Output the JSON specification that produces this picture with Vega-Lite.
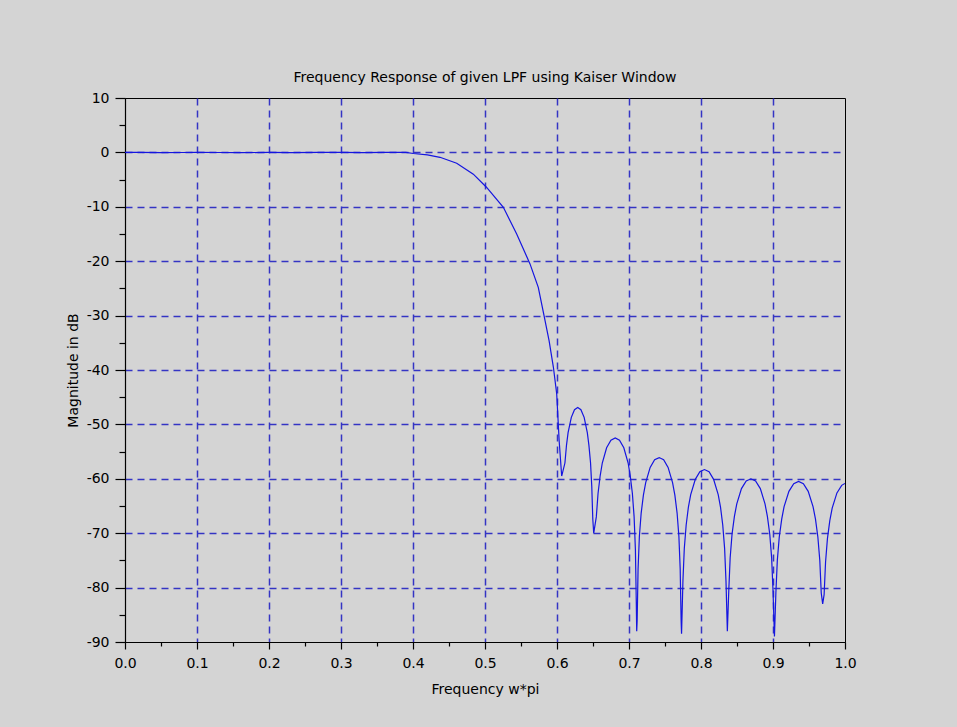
{
  "$schema": "https://vega.github.io/schema/vega-lite/v6.json",
  "autosize": "none",
  "width": 720,
  "height": 544,
  "padding": {"left": 125, "top": 98, "right": 112, "bottom": 85},
  "background": "#d4d4d4",
  "title": {"text": "Frequency Response of given LPF using Kaiser Window", "font": "DejaVu Sans", "fontSize": 14, "fontWeight": "normal", "color": "black", "offset": 6},
  "config": {"view": {"stroke": "black", "strokeWidth": 1, "fill": "#d4d4d4"}},
  "data": {"values": [
    {"f": 0, "db": 0}, {"f": 0.02, "db": -0.01}, {"f": 0.05, "db": -0.05}, {"f": 0.08, "db": -0.02}, {"f": 0.1, "db": 0.02}, {"f": 0.13, "db": -0.02}, {"f": 0.16, "db": -0.05}, {"f": 0.2, "db": 0}, {"f": 0.23, "db": -0.04}, {"f": 0.27, "db": 0.01}, {"f": 0.3, "db": 0.02}, {"f": 0.33, "db": -0.04}, {"f": 0.36, "db": 0}, {"f": 0.38, "db": 0.02}, {"f": 0.39, "db": 0},
    {"f": 0.4005, "db": -0.2}, {"f": 0.42, "db": -0.45}, {"f": 0.4375, "db": -0.9}, {"f": 0.4607, "db": -2.0}, {"f": 0.4838, "db": -4.0}, {"f": 0.502, "db": -6.4}, {"f": 0.5255, "db": -10.1}, {"f": 0.544, "db": -15.0}, {"f": 0.5625, "db": -20.5}, {"f": 0.574, "db": -24.8}, {"f": 0.582, "db": -30.0}, {"f": 0.589, "db": -34.6}, {"f": 0.595, "db": -39.5}, {"f": 0.5996, "db": -44.4}, {"f": 0.603, "db": -53}, {"f": 0.6065, "db": -59.5},
    {"f": 0.611, "db": -57.1}, {"f": 0.6132, "db": -53.8}, {"f": 0.6154, "db": -51.5}, {"f": 0.6199, "db": -48.7}, {"f": 0.6243, "db": -47.3}, {"f": 0.6288, "db": -46.9}, {"f": 0.6332, "db": -47.3}, {"f": 0.6377, "db": -48.7}, {"f": 0.6421, "db": -51.5}, {"f": 0.6443, "db": -53.8}, {"f": 0.6466, "db": -57.1}, {"f": 0.6483, "db": -61.4}, {"f": 0.6497, "db": -67.4}, {"f": 0.651, "db": -70},
    {"f": 0.6546, "db": -67.0}, {"f": 0.657, "db": -62.7}, {"f": 0.66, "db": -59.4}, {"f": 0.6629, "db": -57.1}, {"f": 0.6689, "db": -54.3}, {"f": 0.6749, "db": -52.9}, {"f": 0.6809, "db": -52.5}, {"f": 0.6868, "db": -52.9}, {"f": 0.6928, "db": -54.3}, {"f": 0.6988, "db": -57.1}, {"f": 0.7017, "db": -59.4}, {"f": 0.7047, "db": -62.7}, {"f": 0.7071, "db": -67.0}, {"f": 0.7089, "db": -73.0}, {"f": 0.7101, "db": -82.6}, {"f": 0.7107, "db": -88},
    {"f": 0.7113, "db": -86.2}, {"f": 0.7126, "db": -76.6}, {"f": 0.7144, "db": -70.6}, {"f": 0.7169, "db": -66.3}, {"f": 0.72, "db": -63.0}, {"f": 0.7232, "db": -60.7}, {"f": 0.7294, "db": -57.9}, {"f": 0.7356, "db": -56.5}, {"f": 0.7419, "db": -56.1}, {"f": 0.7481, "db": -56.5}, {"f": 0.7543, "db": -57.9}, {"f": 0.7605, "db": -60.7}, {"f": 0.7637, "db": -63.0}, {"f": 0.7668, "db": -66.3}, {"f": 0.7693, "db": -70.6}, {"f": 0.7711, "db": -76.6}, {"f": 0.7724, "db": -86.2}, {"f": 0.773, "db": -88.5},
    {"f": 0.7749, "db": -78.8}, {"f": 0.7768, "db": -72.8}, {"f": 0.7794, "db": -68.5}, {"f": 0.7825, "db": -65.2}, {"f": 0.7857, "db": -62.9}, {"f": 0.7921, "db": -60.1}, {"f": 0.7984, "db": -58.7}, {"f": 0.8048, "db": -58.3}, {"f": 0.8112, "db": -58.7}, {"f": 0.8175, "db": -60.1}, {"f": 0.8239, "db": -62.9}, {"f": 0.8271, "db": -65.2}, {"f": 0.8302, "db": -68.5}, {"f": 0.8328, "db": -72.8}, {"f": 0.8347, "db": -78.8}, {"f": 0.8366, "db": -88},
    {"f": 0.8386, "db": -80.5}, {"f": 0.8405, "db": -74.5}, {"f": 0.8431, "db": -70.2}, {"f": 0.8464, "db": -66.9}, {"f": 0.8497, "db": -64.6}, {"f": 0.8562, "db": -61.8}, {"f": 0.8628, "db": -60.4}, {"f": 0.8693, "db": -60.0}, {"f": 0.8758, "db": -60.4}, {"f": 0.8824, "db": -61.8}, {"f": 0.8889, "db": -64.6}, {"f": 0.8922, "db": -66.9}, {"f": 0.8955, "db": -70.2}, {"f": 0.8981, "db": -74.5}, {"f": 0.9, "db": -80.5}, {"f": 0.902, "db": -89},
    {"f": 0.904, "db": -81.0}, {"f": 0.906, "db": -75.0}, {"f": 0.9087, "db": -70.7}, {"f": 0.9121, "db": -67.4}, {"f": 0.9154, "db": -65.1}, {"f": 0.9221, "db": -62.3}, {"f": 0.9288, "db": -60.9}, {"f": 0.9355, "db": -60.5}, {"f": 0.9422, "db": -60.9}, {"f": 0.9489, "db": -62.3}, {"f": 0.9556, "db": -65.1}, {"f": 0.959, "db": -67.4}, {"f": 0.9623, "db": -70.7}, {"f": 0.965, "db": -75.0}, {"f": 0.967, "db": -81.0}, {"f": 0.969, "db": -83},
    {"f": 0.971, "db": -81.3}, {"f": 0.973, "db": -75.3}, {"f": 0.9756, "db": -71.0}, {"f": 0.9789, "db": -67.7}, {"f": 0.9822, "db": -65.4}, {"f": 0.9888, "db": -62.6}, {"f": 0.9954, "db": -61.2}, {"f": 1.0, "db": -60.85}
  ]},
  "mark": {"type": "line", "color": "#1515e0", "strokeWidth": 1.2, "clip": true},
  "encoding": {
    "x": {
      "field": "f", "type": "quantitative", "scale": {"domain": [0, 1], "nice": false, "zero": false},
      "axis": {
        "values": [0, 0.05, 0.1, 0.15, 0.2, 0.25, 0.3, 0.35, 0.4, 0.45, 0.5, 0.55, 0.6, 0.65, 0.7, 0.75, 0.8, 0.85, 0.9, 0.95, 1.0],
        "labelExpr": "abs(datum.value*10 - round(datum.value*10)) < 0.01 ? format(datum.value, '.1f') : ''",
        "labelOverlap": false, "labelFlush": false, "labelBound": false,
        "labelFont": "DejaVu Sans", "labelFontSize": 14, "labelColor": "black", "labelPadding": 7,
        "domainColor": "black", "domainWidth": 1.2, "tickColor": "black", "tickWidth": 1.2,
        "tickSize": {"condition": {"test": "abs(datum.value*10 - round(datum.value*10)) < 0.01", "value": 7}, "value": 4},
        "grid": true, "gridColor": "#3434c4", "gridDash": [7, 5], "gridWidth": 1.5,
        "gridOpacity": {"condition": {"test": "abs(datum.value*10 - round(datum.value*10)) < 0.01 && datum.value > 0.01 && datum.value < 0.99", "value": 1}, "value": 0},
        "title": "Frequency w*pi", "titleFont": "DejaVu Sans", "titleFontSize": 14, "titleFontWeight": "normal", "titleColor": "black", "titlePadding": 12
      }
    },
    "y": {
      "field": "db", "type": "quantitative", "scale": {"domain": [-90, 10], "nice": false, "zero": false},
      "axis": {
        "values": [-90, -85, -80, -75, -70, -65, -60, -55, -50, -45, -40, -35, -30, -25, -20, -15, -10, -5, 0, 5, 10],
        "labelExpr": "datum.value % 10 == 0 ? '' + datum.value : ''",
        "labelOverlap": false, "labelFlush": false, "labelBound": false,
        "labelFont": "DejaVu Sans", "labelFontSize": 14, "labelColor": "black", "labelPadding": 6,
        "domainColor": "black", "domainWidth": 1.2, "tickColor": "black", "tickWidth": 1.2,
        "tickSize": {"condition": {"test": "datum.value % 10 == 0", "value": 10}, "value": 6},
        "grid": true, "gridColor": "#3434c4", "gridDash": [7, 5], "gridWidth": 1.5,
        "gridOpacity": {"condition": {"test": "datum.value % 10 == 0 && datum.value > -89 && datum.value < 9", "value": 1}, "value": 0},
        "title": "Magnitude in dB", "titleFont": "DejaVu Sans", "titleFontSize": 14, "titleFontWeight": "normal", "titleColor": "black", "titlePadding": 6
      }
    }
  }
}
